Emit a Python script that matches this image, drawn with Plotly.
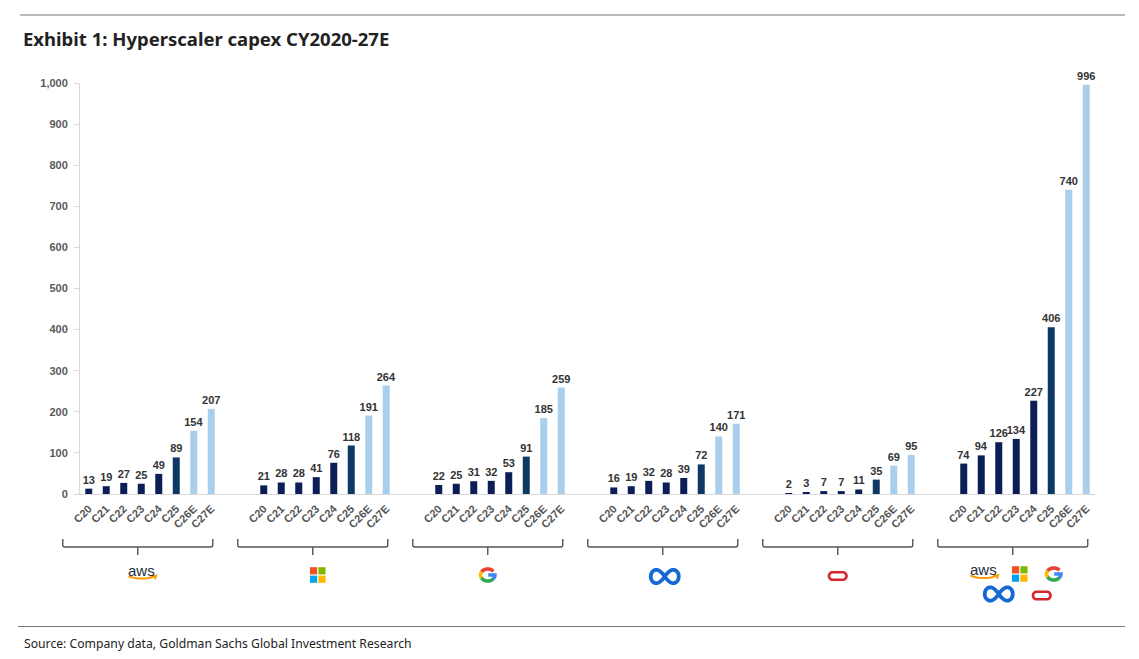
import math
import plotly.graph_objects as go

# ---------------- data ----------------
years = ["C20", "C21", "C22", "C23", "C24", "C25", "C26E", "C27E"]
groups = ["AWS", "Microsoft", "Google", "Meta", "Oracle", "Total"]
aws = [13, 19, 27, 25, 49, 89, 154, 207]
msft = [21, 28, 28, 41, 76, 118, 191, 264]
goog = [22, 25, 31, 32, 53, 91, 185, 259]
meta = [16, 19, 32, 28, 39, 72, 140, 171]
orcl = [2, 3, 7, 7, 11, 35, 69, 95]
total = [74, 94, 126, 134, 227, 406, 740, 996]
series = [aws, msft, goog, meta, orcl, total]
y_ticks = list(range(0, 1001, 100))

# ---------------- layout constants ----------------
W, H = 1139, 659
ML, MR, MT, MB = 80, 44, 83, 165
PW, PH = W - ML - MR, H - MT - MB
BOTTOM = H - MB
SLOTS = 10
NSLOT = len(groups) * SLOTS - 2
XMIN, XMAX = -0.5, NSLOT - 0.5

DARK = "#0b1f56"
MID = "#0d3864"
LIGHT = "#a9cfec"
year_colors = [DARK] * 5 + [MID] + [LIGHT] * 2

fig = go.Figure()
tickvals, ticktext = [], []
for g, vals in enumerate(series):
    xs = [g * SLOTS + i for i in range(len(years))]
    tickvals += xs
    ticktext += years
    fig.add_trace(go.Bar(
        x=xs, y=vals, width=0.4,
        marker=dict(color=year_colors, line=dict(width=0)),
        text=[str(v) for v in vals], textposition="outside",
        textfont=dict(family="Arial", size=11, color="#333333", weight="bold"),
        cliponaxis=False, constraintext="none",
        name=groups[g], showlegend=False, hoverinfo="skip",
    ))


def paper_x_of(xdata):
    return (xdata - XMIN) / (XMAX - XMIN)


def fx(px):
    return (px - ML) / PW


def fy(py):
    return (BOTTOM - py) / PH


shapes = []
annotations = []


def path_shape(anchor, d, color, width=0, fill=None):
    shp = dict(type="path", xref="paper", yref="paper", xsizemode="pixel",
               ysizemode="pixel", xanchor=anchor, yanchor=0, path=d,
               line=dict(color=color, width=width), layer="above")
    shp["fillcolor"] = fill if fill else "rgba(0,0,0,0)"
    shapes.append(shp)


def pts_to_path(pts, cx, cy, close=False):
    s = "M " + " L ".join(f"{cx + x:.2f},{BOTTOM - (cy + y):.2f}" for x, y in pts)
    return s + (" Z" if close else "")


def arc(rx, ry, a0, a1, ox=0.0, oy=0.0, n=16):
    out = []
    for k in range(n + 1):
        a = math.radians(a0 + (a1 - a0) * k / n)
        out.append((ox + rx * math.cos(a), oy - ry * math.sin(a)))
    return out


def draw_aws(anchor, cx, cy):
    annotations.append(dict(text="aws", xref="paper", yref="paper", x=anchor, y=0,
                            xshift=cx, yshift=BOTTOM - (cy - 3), showarrow=False,
                            xanchor="center", yanchor="middle",
                            font=dict(family="Arial", size=15, color="#252f3e")))
    smile = arc(14, 4, 200, 340, oy=1.5, n=14)
    path_shape(anchor, pts_to_path(smile, cx, cy), "#FF9900", 2)
    head = [(9.5, 3.3), (14.5, 2.6), (13.2, 6.2)]
    path_shape(anchor, pts_to_path(head, cx, cy), "#FF9900", 1.8)


def draw_ms(anchor, cx, cy):
    s, gap = 7.2, 1.2
    cols = [("#F25022", -1, -1), ("#7FBA00", 1, -1), ("#00A4EF", -1, 1), ("#FFB900", 1, 1)]
    for col, sx, sy in cols:
        lx0 = gap / 2 if sx > 0 else -(gap / 2 + s)
        ly0 = gap / 2 if sy > 0 else -(gap / 2 + s)
        shapes.append(dict(type="rect", xref="paper", yref="paper", xsizemode="pixel",
                           ysizemode="pixel", xanchor=anchor, yanchor=0,
                           x0=cx + lx0, x1=cx + lx0 + s,
                           y0=BOTTOM - (cy + ly0), y1=BOTTOM - (cy + ly0 + s),
                           line=dict(width=0), fillcolor=col, layer="above"))


def draw_g(anchor, cx, cy):
    rx, ry, w = 7.2, 6.0, 3.6
    path_shape(anchor, pts_to_path(arc(rx, ry, 38, 150), cx, cy), "#EA4335", w)
    path_shape(anchor, pts_to_path(arc(rx, ry, 148, 212), cx, cy), "#FBBC05", w)
    path_shape(anchor, pts_to_path(arc(rx, ry, 210, 322), cx, cy), "#34A853", w)
    blue = arc(rx, ry, 320, 360) + [(0.5, 0.0)]
    path_shape(anchor, pts_to_path(blue, cx, cy), "#4285F4", w)


def draw_meta(anchor, cx, cy):
    a = 14.0
    pts = []
    n = 72
    for k in range(n + 1):
        t = 2 * math.pi * k / n
        d = 1 + math.sin(t) ** 2
        pts.append((a * math.cos(t) / d, 1.35 * a * math.sin(t) * math.cos(t) / d))
    path_shape(anchor, pts_to_path(pts, cx, cy, close=True), "#1668d4", 3.8)


def draw_oracle(anchor, cx, cy):
    hw, hh = 8.8, 3.8
    pts = arc(hh, hh, -90, 90, ox=hw - hh) + arc(hh, hh, 90, 270, ox=-(hw - hh))
    path_shape(anchor, pts_to_path(pts, cx, cy, close=True), "#d6262b", 2.6)


drawers = {"aws": draw_aws, "ms": draw_ms, "g": draw_g, "meta": draw_meta, "oracle": draw_oracle}
logos = [
    ("aws", 0, 53, 573), ("ms", 1, 54, 575), ("g", 2, 49, 575),
    ("meta", 3, 51, 576.5), ("oracle", 4, 49, 576),
    ("aws", 5, 20, 572.5), ("ms", 5, 56, 574), ("g", 5, 90, 574),
    ("meta", 5, 35, 594), ("oracle", 5, 78, 595.5),
]
for kind, g, dx, yy in logos:
    drawers[kind](paper_x_of(g * SLOTS), dx, yy)

# brackets under each group
for g in range(len(groups)):
    anchor = paper_x_of(g * SLOTS)
    L, R, M, Yh, Ye, Ym = -26, 124, 49, 547, 539, 555
    d = (f"M {L},{BOTTOM - Ye} L {L},{BOTTOM - Yh + 2} Q {L},{BOTTOM - Yh} {L + 2},{BOTTOM - Yh} "
         f"L {R - 2},{BOTTOM - Yh} Q {R},{BOTTOM - Yh} {R},{BOTTOM - Yh + 2} L {R},{BOTTOM - Ye} "
         f"M {M},{BOTTOM - Yh} L {M},{BOTTOM - Ym}")
    path_shape(anchor, d, "#555555", 1.4)

# rules
shapes.append(dict(type="line", xref="paper", yref="paper", x0=fx(20), x1=fx(1125),
                   y0=fy(15), y1=fy(15), line=dict(color="#777777", width=1.2)))
shapes.append(dict(type="line", xref="paper", yref="paper", x0=fx(18), x1=fx(1125),
                   y0=fy(626.5), y1=fy(626.5), line=dict(color="#777777", width=1.2)))

annotations.append(dict(text="Exhibit 1: Hyperscaler capex CY2020-27E", xref="paper", yref="paper",
                        x=fx(21), y=fy(39), xanchor="left", yanchor="middle", showarrow=False,
                        font=dict(family="Noto Sans", size=18.5, color="#222222", weight="bold")))
annotations.append(dict(text="Source: Company data, Goldman Sachs Global Investment Research",
                        xref="paper", yref="paper", x=fx(22), y=fy(643), xanchor="left",
                        yanchor="middle", showarrow=False,
                        font=dict(family="Noto Sans", size=12.2, color="#222222")))

fig.update_layout(
    width=W, height=H, margin=dict(l=ML, r=MR, t=MT, b=MB),
    paper_bgcolor="white", plot_bgcolor="white", barmode="overlay",
    shapes=shapes, annotations=annotations,
    xaxis=dict(range=[XMIN, XMAX], tickmode="array", tickvals=tickvals, ticktext=ticktext,
               tickangle=-45, showgrid=False, zeroline=False, showline=True,
               linecolor="#d9d9d9", linewidth=1, ticks="", ticklabelstandoff=3,
               tickfont=dict(family="Arial", size=11, color="#555555", weight="bold")),
    yaxis=dict(range=[0, 1000], tickmode="array", tickvals=y_ticks,
               ticktext=[f"{v:,}" for v in y_ticks], showgrid=False, zeroline=False,
               showline=True, linecolor="#d9d9d9", linewidth=1, ticks="outside",
               ticklen=5, tickcolor="#d9d9d9", ticklabelstandoff=4,
               tickfont=dict(family="Arial", size=11, color="#595959", weight="bold")),
)

fig.write_html("out.html")
